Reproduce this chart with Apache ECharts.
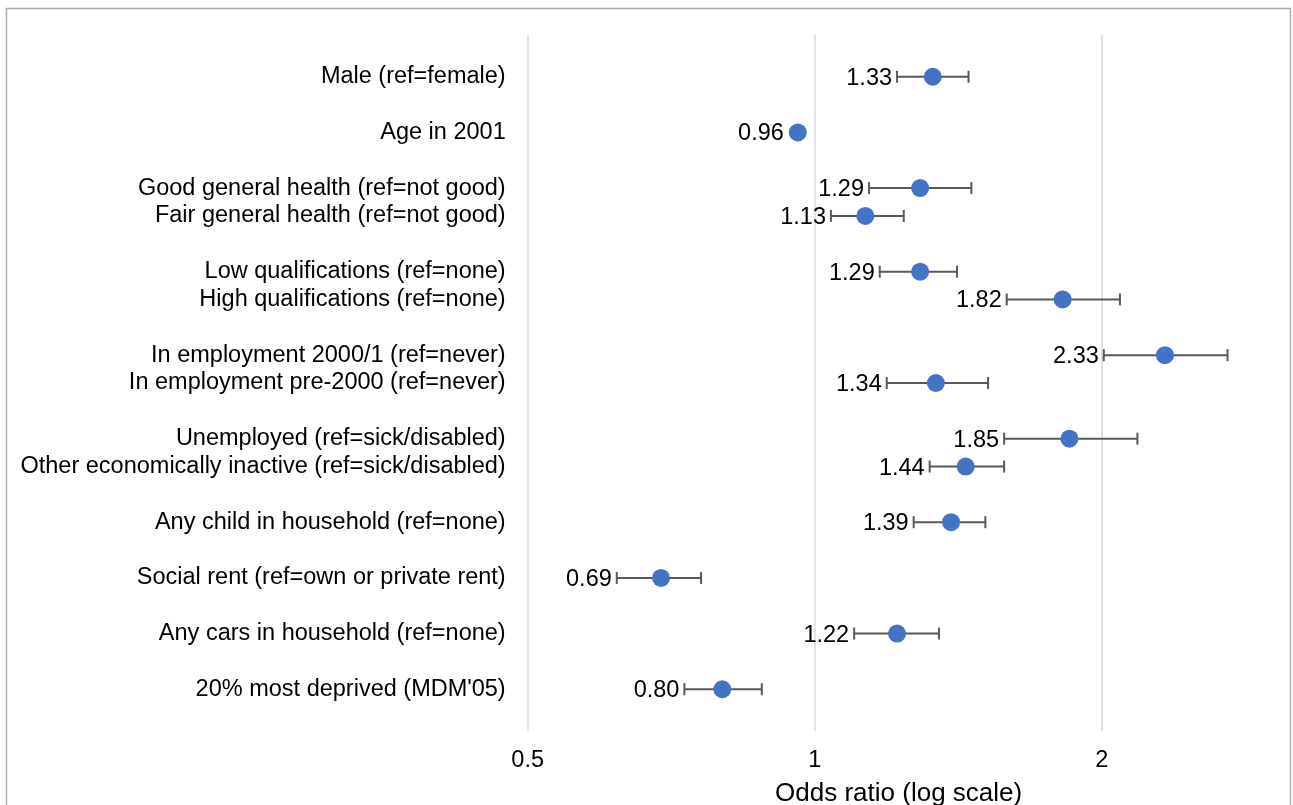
<!DOCTYPE html>
<html>
<head>
<meta charset="utf-8">
<title>Odds ratios</title>
<script src="https://cdn.jsdelivr.net/npm/echarts@6/dist/echarts.min.js"></script>
<style>
  html, body { margin: 0; padding: 0; background: #ffffff; }
  #chart { width: 1293px; height: 805px; }
</style>
</head>
<body>
<div id="chart"></div>
<script>
// Covariates, in display order
const labels = [
  'Male (ref=female)',
  'Age in 2001',
  'Good general health (ref=not good)',
  'Fair general health (ref=not good)',
  'Low qualifications (ref=none)',
  'High qualifications (ref=none)',
  'In employment 2000/1 (ref=never)',
  'In employment pre-2000 (ref=never)',
  'Unemployed (ref=sick/disabled)',
  'Other economically inactive (ref=sick/disabled)',
  'Any child in household (ref=none)',
  'Social rent (ref=own or private rent)',
  'Any cars in household (ref=none)',
  "20% most deprived (MDM'05)"
];
// Which block each covariate belongs to (blocks are separated by a blank row)
const blockOf = [0, 1, 2, 2, 3, 3, 4, 4, 5, 5, 6, 7, 8, 9];

const oddsRatio = [1.33, 0.96, 1.29, 1.13, 1.29, 1.82, 2.33, 1.34, 1.85, 1.44, 1.39, 0.69, 1.22, 0.80];
const ciLower   = [1.22, 0.95, 1.14, 1.04, 1.17, 1.59, 2.01, 1.19, 1.58, 1.32, 1.27, 0.62, 1.10, 0.73];
const ciUpper   = [1.45, 0.97, 1.46, 1.24, 1.41, 2.09, 2.71, 1.52, 2.18, 1.58, 1.51, 0.76, 1.35, 0.88];

const xTickValues = [0.5, 1, 2];
const xTickLabels = ['0.5', '1', '2'];
const xAxisTitle = 'Odds ratio (log scale)';

// Build the category list with spacer rows between blocks
const categories = [''];
const rowIndex = [];
labels.forEach((lab, i) => {
  if (i > 0 && blockOf[i] !== blockOf[i - 1]) categories.push('');
  rowIndex.push(categories.length);
  categories.push(lab);
});
categories.push('');

const FONT = "'Liberation Sans', Arial, sans-serif";
const TEXT_SIZE = 23.5;
const MARKER = 18;

const pointData = oddsRatio.map((v, i) => [v, rowIndex[i]]);
const barData = oddsRatio.map((v, i) => [ciLower[i], ciUpper[i], rowIndex[i], v]);

const chart = echarts.init(document.getElementById('chart'), null, { renderer: 'canvas' });

chart.setOption({
  backgroundColor: '#ffffff',
  animation: false,
  graphic: [{
    type: 'rect',
    shape: { x: 6.5, y: 8.5, width: 1284, height: 820 },
    style: { fill: 'none', stroke: '#ababab', lineWidth: 1.5 },
    silent: true,
    z: 100
  }],
  grid: { left: 527.7, right: 23.4, top: 35, bottom: 74, outerBoundsMode: 'none', containLabel: false },
  xAxis: {
    type: 'log',
    logBase: 2,
    min: 0.5,
    max: 3,
    axisLine: { show: false },
    axisTick: { show: false },
    splitLine: { show: true, showMaxLine: false, lineStyle: { color: '#d9d9d9', width: 1.5 } },
    axisLabel: {
      showMaxLabel: false,
      margin: 18,
      fontFamily: FONT,
      fontSize: TEXT_SIZE,
      color: '#000000',
      formatter: function (val) {
        const k = xTickValues.findIndex(t => Math.abs(t - val) < 1e-6);
        return k >= 0 ? xTickLabels[k] : '';
      }
    },
    name: xAxisTitle,
    nameLocation: 'middle',
    nameGap: 50,
    nameTextStyle: { fontFamily: FONT, fontSize: 26, color: '#000000' }
  },
  yAxis: {
    type: 'category',
    inverse: true,
    data: categories,
    axisLine: { show: false },
    axisTick: { show: false },
    splitLine: { show: false },
    axisLabel: {
      interval: 0,
      margin: 22,
      fontFamily: FONT,
      fontSize: TEXT_SIZE,
      color: '#000000',
      padding: [5, 0, 0, 0]
    }
  },
  series: [
    {
      // confidence interval whiskers with the estimate written to their left
      type: 'custom',
      data: barData,
      encode: { x: [0, 1], y: 2 },
      z: 2,
      renderItem: function (params, api) {
        const lo = api.coord([api.value(0), api.value(2)]);
        const hi = api.coord([api.value(1), api.value(2)]);
        const est = api.value(3);
        const pt = api.coord([est, api.value(2)]);
        const cap = 6;
        const style = { stroke: '#595959', lineWidth: 2, fill: 'none' };
        const textRight = Math.min(lo[0], pt[0] - MARKER / 2) - 5;
        return {
          type: 'group',
          children: [
            { type: 'line', shape: { x1: lo[0], y1: lo[1], x2: hi[0], y2: hi[1] }, style: style },
            { type: 'line', shape: { x1: lo[0], y1: lo[1] - cap, x2: lo[0], y2: lo[1] + cap }, style: style },
            { type: 'line', shape: { x1: hi[0], y1: hi[1] - cap, x2: hi[0], y2: hi[1] + cap }, style: style },
            {
              type: 'text',
              x: textRight,
              y: lo[1] + 1.5,
              style: {
                text: est.toFixed(2),
                align: 'right',
                verticalAlign: 'middle',
                fontFamily: FONT,
                fontSize: TEXT_SIZE,
                fill: '#000000'
              }
            }
          ]
        };
      }
    },
    {
      // point estimates
      type: 'scatter',
      data: pointData,
      symbol: 'circle',
      symbolSize: MARKER,
      itemStyle: { color: '#4472c4', opacity: 1 },
      z: 3
    }
  ]
});
</script>
</body>
</html>
